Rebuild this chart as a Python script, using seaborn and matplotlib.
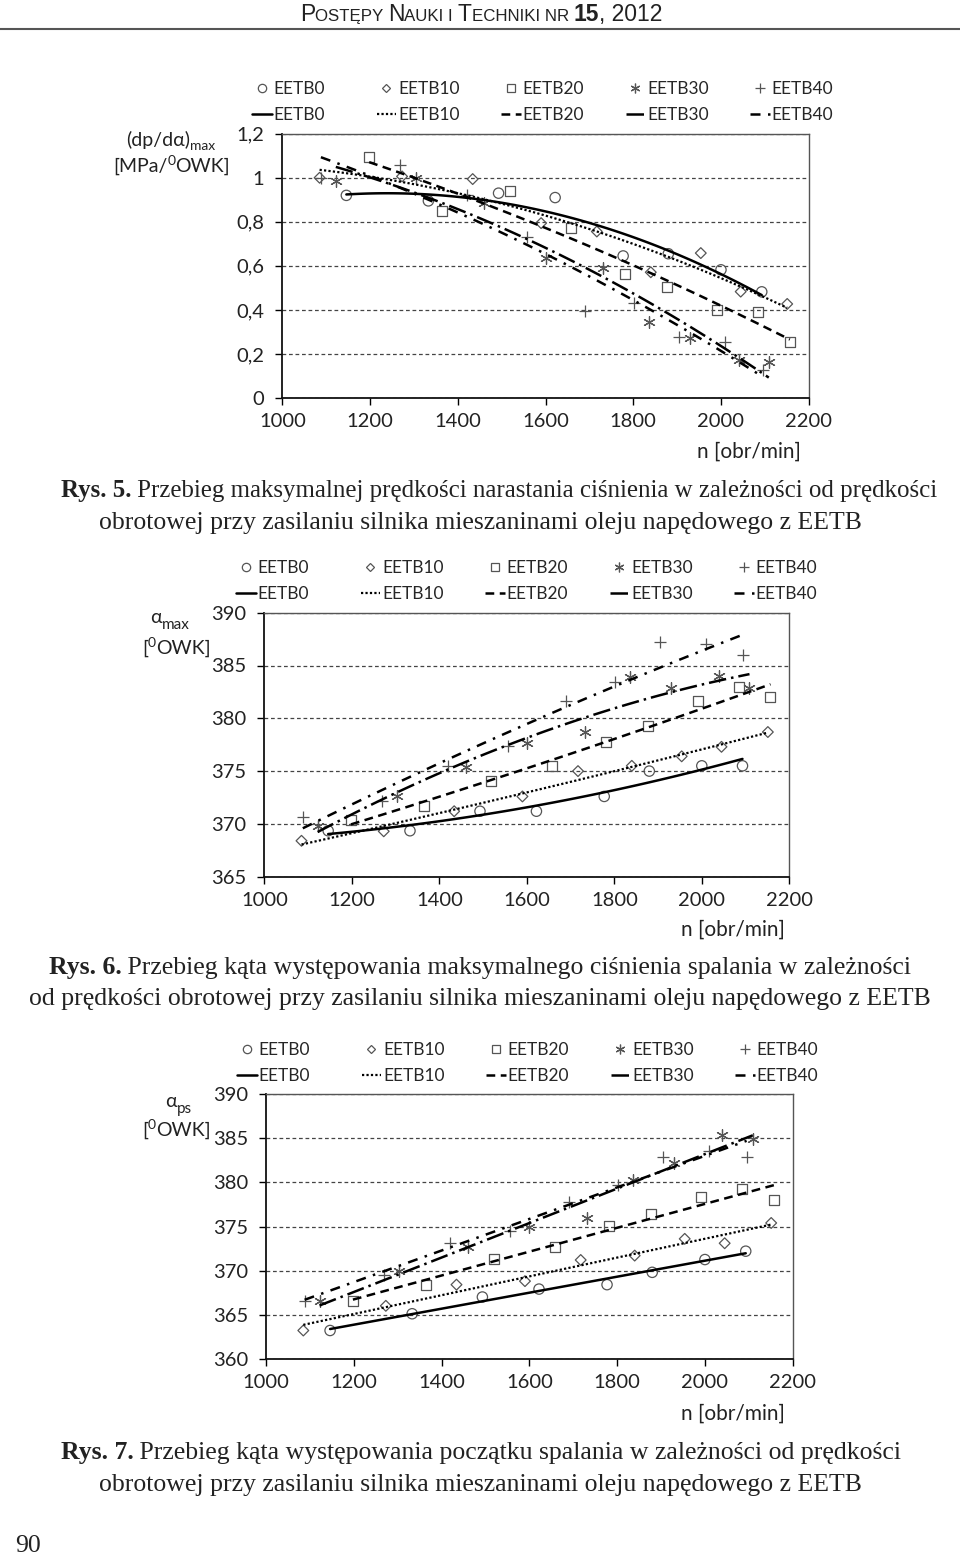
import warnings
import matplotlib
matplotlib.use('Agg')
import matplotlib.pyplot as plt
from matplotlib.lines import Line2D
import seaborn as sns

warnings.filterwarnings('ignore')

W, H = 960, 1557

series = ['EETB0', 'EETB10', 'EETB20', 'EETB30', 'EETB40']

# engine speed [obr/min] of the measuring points, per fuel
n_b0 = [1146, 1333, 1493, 1622, 1777, 1880, 2000, 2093]
n_b10 = [1085, 1273, 1434, 1590, 1717, 1840, 1954, 2045, 2151]
n_b20 = [1198, 1365, 1519, 1658, 1782, 1877, 1991, 2085, 2157]
n_b30 = [1122, 1304, 1460, 1600, 1732, 1836, 1930, 2040, 2109]
n_b40 = [1088, 1269, 1420, 1557, 1690, 1802, 1904, 2010, 2095]

# Rys. 5 - (dp/dalpha)max [MPa/OWK]
dp_b0 = [0.92, 0.895, 0.93, 0.91, 0.645, 0.655, 0.582, 0.482]
dp_b10 = [1.0, 1.006, 0.994, 0.794, 0.756, 0.571, 0.658, 0.483, 0.427]
dp_b20 = [1.094, 0.85, 0.942, 0.771, 0.561, 0.503, 0.40, 0.39, 0.256]
dp_b30 = [0.986, 0.998, 0.885, 0.635, 0.59, 0.347, 0.274, 0.173, 0.165]
dp_b40 = [1.0, 1.056, 0.92, 0.733, 0.397, 0.433, 0.276, 0.256, 0.127]

# Rys. 6 - alpha max [OWK]
am_b0 = [369.35, 369.35, 371.2, 371.2, 372.6, 375.0, 375.5, 375.5]
am_b10 = [368.4, 369.3, 371.2, 372.6, 375.0, 375.5, 376.4, 377.3, 378.7]
am_b20 = [370.37, 371.7, 374.1, 375.5, 377.8, 379.3, 381.6, 383.0, 382.0]
am_b30 = [369.8, 372.6, 375.4, 377.7, 378.7, 383.9, 382.9, 384.0, 382.9]
am_b40 = [370.7, 372.2, 375.5, 377.4, 381.6, 383.4, 387.2, 387.0, 386.0]

# Rys. 7 - alpha ps [OWK]
ps_b0 = [363.2, 365.1, 367.0, 367.9, 368.4, 369.8, 371.25, 372.2]
ps_b10 = [363.2, 366.0, 368.4, 368.8, 371.2, 371.7, 373.6, 373.1, 375.4]
ps_b20 = [366.6, 368.4, 371.3, 372.7, 375.1, 376.4, 378.3, 379.2, 378.0]
ps_b30 = [366.5, 369.9, 372.7, 374.95, 376.0, 380.3, 382.2, 385.4, 384.9]
ps_b40 = [366.5, 369.5, 373.1, 374.5, 377.8, 379.7, 382.9, 383.6, 382.9]

x_ticks = [1000, 1200, 1400, 1600, 1800, 2000, 2200]
dp_ticks = [0, 0.2, 0.4, 0.6, 0.8, 1.0, 1.2]
dp_labels = ['0', '0,2', '0,4', '0,6', '0,8', '1', '1,2']
am_ticks = [365, 370, 375, 380, 385, 390]
ps_ticks = [360, 365, 370, 375, 380, 385, 390]

GREY = '#555555'
marker_kw = {
    'EETB0': dict(marker='o', s=55, facecolor='none', edgecolor=GREY, linewidth=0.9),
    'EETB10': dict(marker='D', s=30, facecolor='none', edgecolor=GREY, linewidth=0.9),
    'EETB20': dict(marker='s', s=52, facecolor='none', edgecolor=GREY, linewidth=0.9),
    'EETB30': dict(marker=(6, 2, 0), s=70, color=GREY, linewidth=0.9),
    'EETB40': dict(marker='+', s=70, color=GREY, linewidth=0.9),
}
legend_marker = {
    'EETB0': dict(marker='o', ms=6),
    'EETB10': dict(marker='D', ms=4.5),
    'EETB20': dict(marker='s', ms=6),
    'EETB30': dict(marker=(6, 2, 0), ms=7),
    'EETB40': dict(marker='+', ms=7),
}
line_kw = {
    'EETB0': dict(lw=1.8, ls='-'),
    'EETB10': dict(lw=1.6, ls=(0, (1, 1))),
    'EETB20': dict(lw=1.8, ls=(0, (3.5, 2.2))),
    'EETB30': dict(lw=1.8, ls=(0, (7, 2, 1, 2))),
    'EETB40': dict(lw=1.8, ls=(0, (4, 3, 1, 3))),
}

sns.set_style('ticks')
plt.rcParams['font.family'] = ['Lato', 'DejaVu Sans']

fig = plt.figure(figsize=(9.6, 15.57), dpi=100)
renderer = fig.canvas.get_renderer()


def fx(x):
    return x / W


def fy(y):
    return 1 - y / H


def text_width(s, kw):
    a = fig.text(0, 0, 'x' + s + 'x', **kw)
    b = fig.text(0, 0, 'xx', **kw)
    w = a.get_window_extent(renderer).width - b.get_window_extent(renderer).width
    a.remove()
    b.remove()
    return w


def runs(x, y, parts, ha='center'):
    # parts: (text, props); props may hold dy = raise in pixels
    items = []
    for s, kw in parts:
        kw = dict(kw)
        dy = kw.pop('dy', 0)
        items.append((s, kw, dy, text_width(s, kw)))
    total = sum(it[3] for it in items)
    x0 = x - total / 2 if ha == 'center' else x
    for s, kw, dy, w in items:
        fig.text(fx(x0), fy(y - dy), s, va='baseline', ha='left', **kw)
        x0 += w


def draw_chart(box, ys, order, ylim, yticks, ylabels, leg_x, leg_y):
    left, top, right, bottom = box
    ax = fig.add_axes([fx(left), fy(bottom), fx(right - left), (bottom - top) / H])
    ns = [n_b0, n_b10, n_b20, n_b30, n_b40]
    for name, n, v in zip(series, ns, ys):
        sns.scatterplot(x=n, y=v, ax=ax, zorder=3, **marker_kw[name])
        sns.regplot(x=n, y=v, order=order, ci=None, scatter=False, ax=ax,
                    color='k', line_kws=dict(zorder=4, **line_kw[name]))
    ax.set_xlim(x_ticks[0], x_ticks[-1])
    ax.set_ylim(*ylim)
    ax.set_xticks(x_ticks)
    ax.set_yticks(yticks)
    ax.set_yticklabels(ylabels)
    ax.set_xlabel('')
    ax.set_ylabel('')
    ax.yaxis.grid(True, color='#444444', lw=0.9, ls=(0, (3, 2.2)))
    ax.set_axisbelow(True)
    ax.tick_params(axis='both', direction='out', length=5, width=1,
                   labelsize=14.5, color='k', labelcolor='#222222')
    ax.tick_params(axis='y', pad=8)
    ax.tick_params(axis='x', pad=6)
    for side in ['left', 'bottom']:
        ax.spines[side].set_color('#111111')
        ax.spines[side].set_linewidth(1.3)
    for side in ['top', 'right']:
        ax.spines[side].set_color('#555555')
        ax.spines[side].set_linewidth(1.0)

    # Excel-like legend: equal-width columns, markers above lines
    legs = []
    for i, name in enumerate(series):
        h_m = Line2D([], [], ls='none', mfc='none', mec=GREY, color=GREY,
                     mew=0.9, **legend_marker[name])
        h_l = Line2D([], [], color='k', **line_kw[name])
        leg = ax.legend([h_m, h_l], [name, name], loc='center left',
                        bbox_to_anchor=(fx(leg_x + 124.5 * i), fy(leg_y)),
                        bbox_transform=fig.transFigure, frameon=False,
                        fontsize=12.5, handlelength=1.15, handletextpad=0.1,
                        labelspacing=0.53, borderpad=0, borderaxespad=0)
        legs.append(leg)
    for leg in legs[:-1]:
        ax.add_artist(leg)
    return ax


# header
hdr = dict(family=['Liberation Sans Narrow', 'Liberation Sans'], color='#222222')
big = dict(size=16.5, **hdr)
small = dict(size=12.2, **hdr)
runs(481, 21, [('P', big), ('OSTĘPY ', small), ('N', big), ('AUKI I ', small),
               ('T', big), ('ECHNIKI NR ', small), ('15', dict(weight='bold', **big)),
               (', 2012', big)])
fig.add_artist(Line2D([0, 1], [fy(28.5), fy(28.5)], color='#555555', lw=1.5,
                      transform=fig.transFigure))

# charts
draw_chart((282.3, 133.7, 808.7, 398), [dp_b0, dp_b10, dp_b20, dp_b30, dp_b40], 2,
           (0, 1.2), dp_ticks, dp_labels, 252, 102)
draw_chart((264.3, 612.7, 789.3, 876.7), [am_b0, am_b10, am_b20, am_b30, am_b40], 2,
           (365, 390), am_ticks, [str(t) for t in am_ticks], 236, 581)
draw_chart((266, 1094.3, 792.7, 1358.7), [ps_b0, ps_b10, ps_b20, ps_b30, ps_b40], 1,
           (360, 390), ps_ticks, [str(t) for t in ps_ticks], 237, 1063)

# axis labels
lab = dict(size=14, color='#222222')
axl = dict(size=15, color='#222222')
sub = dict(size=10, color='#222222')
sub2 = dict(size=11, color='#222222')
runs(126, 146, [('(dp/dα)', lab), ('max', dict(dy=-4, **sub))], ha='left')
runs(113, 172, [('[MPa/', lab), ('0', dict(dy=7, **sub)), ('OWK]', lab)], ha='left')
runs(150, 623, [('α', lab), ('max', dict(dy=-6, **sub2))], ha='left')
runs(142, 654, [('[', lab), ('0', dict(dy=7, **sub)), ('OWK]', lab)], ha='left')
runs(165, 1107, [('α', lab), ('ps', dict(dy=-6, **sub2))], ha='left')
runs(142, 1136, [('[', lab), ('0', dict(dy=7, **sub)), ('OWK]', lab)], ha='left')
for xc, yc in [(749, 452), (733, 930), (733, 1414)]:
    fig.text(fx(xc), fy(yc), 'n [obr/min]', ha='center', va='center', **axl)

# captions
cap = dict(family='Liberation Serif', size=18.5, color='#222222')
capb = dict(family='Liberation Serif', size=18.5, color='#222222', weight='bold')
cap1 = dict(cap, size=17.9)
capb1 = dict(capb, size=17.9)
runs(499, 497, [('Rys. 5.', capb1), (' Przebieg maksymalnej prędkości narastania ciśnienia w zależności od prędkości', cap1)])
runs(480, 529, [('obrotowej przy zasilaniu silnika mieszaninami oleju napędowego z EETB', cap)])
runs(480, 974, [('Rys. 6.', capb), (' Przebieg kąta występowania maksymalnego ciśnienia spalania w zależności', cap)])
runs(480, 1005, [('od prędkości obrotowej przy zasilaniu silnika mieszaninami oleju napędowego z EETB', cap)])
runs(481, 1459, [('Rys. 7.', capb), (' Przebieg kąta występowania początku spalania w zależności od prędkości', cap)])
runs(480, 1491, [('obrotowej przy zasilaniu silnika mieszaninami oleju napędowego z EETB', cap)])
runs(15, 1552, [('90', cap)], ha='left')

fig.savefig('out.png', dpi=100, facecolor='white')
